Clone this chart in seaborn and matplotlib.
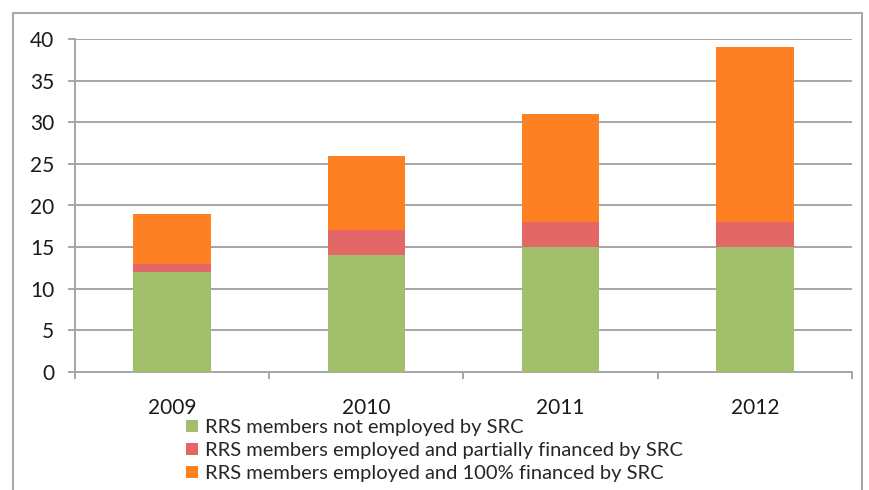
import pandas as pd
import matplotlib.pyplot as plt
import seaborn as sns
from matplotlib.patches import Rectangle, Patch

years = ["2009", "2010", "2011", "2012"]
not_employed = [12, 14, 15, 15]
partially_financed = [1, 3, 3, 3]
fully_financed = [6, 9, 13, 21]
series_names = [
    "RRS members not employed by SRC",
    "RRS members employed and partially financed by SRC",
    "RRS members employed and 100% financed by SRC",
]
colors = ["#A2C06B", "#E36767", "#FD8123"]

df = pd.DataFrame({"year": years, "green": not_employed, "red": partially_financed, "orange": fully_financed})
df["lvl1"] = df["green"]
df["lvl2"] = df["green"] + df["red"]
df["lvl3"] = df["lvl2"] + df["orange"]

sns.set_style("white")
plt.rcParams["font.family"] = ["Lato", "DejaVu Sans"]

fig = plt.figure(figsize=(8.7, 4.9), dpi=100)
ax = fig.add_axes([75 / 870, 1 - 372 / 490, 777 / 870, 333 / 490])

# stacked bars drawn from the top layer down
for col, c in zip(["lvl3", "lvl2", "lvl1"], colors[::-1]):
    sns.barplot(data=df, x="year", y=col, color=c, width=0.4, saturation=1, ax=ax,
                linewidth=0, edgecolor="none", zorder=3)

ax.set_xlim(-0.5, 3.5)
ax.set_ylim(0, 40)
ax.set_yticks(range(0, 41, 5))
ax.set_xlabel("")
ax.set_ylabel("")
ax.grid(axis="y", color="#A6A6A6", linewidth=1.4, zorder=0)
ax.set_axisbelow(True)
for s in ["top", "right"]:
    ax.spines[s].set_visible(False)
ax.spines["left"].set_color("#A6A6A6")
ax.spines["left"].set_linewidth(1.4)
ax.spines["bottom"].set_color("#A6A6A6")
ax.spines["bottom"].set_linewidth(1.4)

ax.tick_params(axis="y", length=5, width=1.4, color="#A6A6A6", pad=10, labelsize=15, labelcolor="#1a1a1a", left=True)
ax.tick_params(axis="x", which="major", length=0, pad=19, labelsize=15, labelcolor="#1a1a1a")
ax.set_xticks([-0.5, 0.5, 1.5, 2.5, 3.5], minor=True)
ax.tick_params(axis="x", which="minor", length=5, width=1.4, color="#A6A6A6", bottom=True)

handles = [Patch(facecolor=c, edgecolor="none") for c in colors]
fig.legend(handles, series_names, loc="upper left", bbox_to_anchor=(186 / 870, 1 - 419 / 490),
           frameon=False, fontsize=14.5, handlelength=0.6, handleheight=0.6, handletextpad=0.35,
           labelspacing=0.3, borderaxespad=0, borderpad=0)

fig.patches.append(Rectangle((13 / 870, -0.05), 849 / 870, 1.05 - 13 / 490, transform=fig.transFigure,
                             fill=False, edgecolor="#A6A6A6", linewidth=1.4))

fig.savefig("out.png", dpi=100)
